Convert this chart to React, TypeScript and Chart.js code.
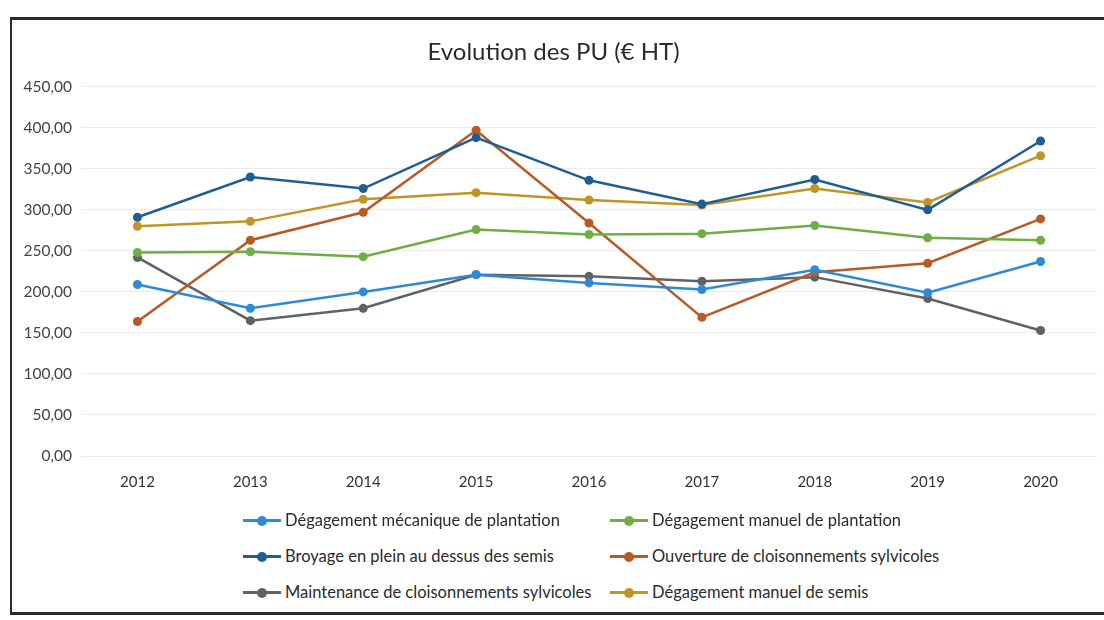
import React, { useEffect, useRef } from "react";
import { Chart, registerables } from "chart.js";

Chart.register(...registerables);

const years = ["2012", "2013", "2014", "2015", "2016", "2017", "2018", "2019", "2020"];
const degMecaPlantation = [209, 180, 200, 221, 211, 203, 227, 199, 237];
const degManuelPlantation = [248, 249, 243, 276, 270, 271, 281, 266, 263];
const broyagePlein = [291, 340, 326, 388, 336, 307, 337, 300, 384];
const ouvertureCloisonnements = [164, 263, 297, 397, 284, 169, 224, 235, 289];
const maintenanceCloisonnements = [242, 165, 180, 221, 219, 213, 218, 192, 153];
const degManuelSemis = [280, 286, 313, 321, 312, 306, 326, 309, 366];

const seriesNames = [
  "Dégagement mécanique de plantation",
  "Dégagement manuel de plantation",
  "Broyage en plein au dessus des semis",
  "Ouverture de cloisonnements sylvicoles",
  "Maintenance de cloisonnements sylvicoles",
  "Dégagement manuel de semis",
];
const seriesColors = ["#2f8ad6", "#6fae45", "#1f5d96", "#b85a26", "#5f6366", "#bf9526"];
const seriesData = [
  degMecaPlantation,
  degManuelPlantation,
  broyagePlein,
  ouvertureCloisonnements,
  maintenanceCloisonnements,
  degManuelSemis,
];

const FONT = "Lato, 'Open Sans', sans-serif";

export default function App() {
  const ref = useRef<HTMLCanvasElement | null>(null);
  useEffect(() => {
    if (!ref.current) return;
    const chart = new Chart(ref.current, {
      type: "line",
      data: {
        labels: years,
        datasets: seriesNames.map((name, i) => ({
          label: name,
          data: seriesData[i],
          borderColor: seriesColors[i],
          backgroundColor: seriesColors[i],
          borderWidth: 2.5,
          pointRadius: 4.5,
          pointHoverRadius: 4.5,
          pointBorderWidth: 0,
          tension: 0,
        })),
      },
      options: {
        animation: false,
        responsive: false,
        maintainAspectRatio: false,
        layout: { padding: { left: 10, right: 7, top: 0, bottom: 8 } },
        plugins: {
          legend: { display: false },
          tooltip: { enabled: false },
          title: {
            display: true,
            text: "Evolution des PU (€ HT)",
            color: "#2b2b2b",
            font: { family: FONT, size: 24, weight: "normal" },
            padding: { top: 38, bottom: 20 },
          },
        },
        scales: {
          x: {
            offset: true,
            grid: { display: false, drawTicks: false },
            border: { display: false },
            ticks: {
              color: "#333",
              font: { family: FONT, size: 15 },
              padding: 17,
            },
          },
          y: {
            min: 0,
            max: 450,
            afterFit: (s: any) => {
              s.width = 71;
            },
            grid: { color: "#ececec", drawTicks: false },
            border: { display: false },
            ticks: {
              stepSize: 50,
              color: "#444",
              padding: 9,
              font: { family: FONT, size: 15.5 },
              callback: (v: any) => Number(v).toFixed(2).replace(".", ","),
            },
          },
        },
      },
    });
    return () => chart.destroy();
  }, []);

  const rowY = [520, 556, 592];
  const colX = [243, 610];

  return (
    <div
      style={{
        position: "fixed",
        left: 0,
        top: 0,
        width: 1104,
        height: 620,
        background: "#fff",
        overflow: "hidden",
      }}
    >
      <div
        style={{
          position: "absolute",
          left: 10,
          top: 17,
          width: 1100,
          height: 592,
          borderLeft: "2px solid #2a2a2a",
          borderTop: "3px solid #2a2a2a",
          borderBottom: "3px solid #2a2a2a",
        }}
      />
      <canvas
        ref={ref}
        width={1104}
        height={516}
        style={{ position: "absolute", left: 0, top: 0, width: 1104, height: 516 }}
      />
      {seriesNames.map((name, i) => {
        const x = colX[i % 2];
        const y = rowY[Math.floor(i / 2)];
        return (
          <div
            key={name}
            style={{
              position: "absolute",
              left: x,
              top: y - 10,
              height: 20,
              display: "flex",
              alignItems: "center",
              fontFamily: FONT,
              fontSize: 16.5,
              color: "#2b2b2b",
              whiteSpace: "nowrap",
            }}
          >
            <span style={{ position: "relative", width: 38, height: 20, marginRight: 4 }}>
              <span
                style={{
                  position: "absolute",
                  left: 0,
                  top: 9,
                  width: 38,
                  height: 3,
                  background: seriesColors[i],
                }}
              />
              <span
                style={{
                  position: "absolute",
                  left: 14,
                  top: 5.5,
                  width: 10,
                  height: 10,
                  borderRadius: 5,
                  background: seriesColors[i],
                }}
              />
            </span>
            <span>{name}</span>
          </div>
        );
      })}
    </div>
  );
}
